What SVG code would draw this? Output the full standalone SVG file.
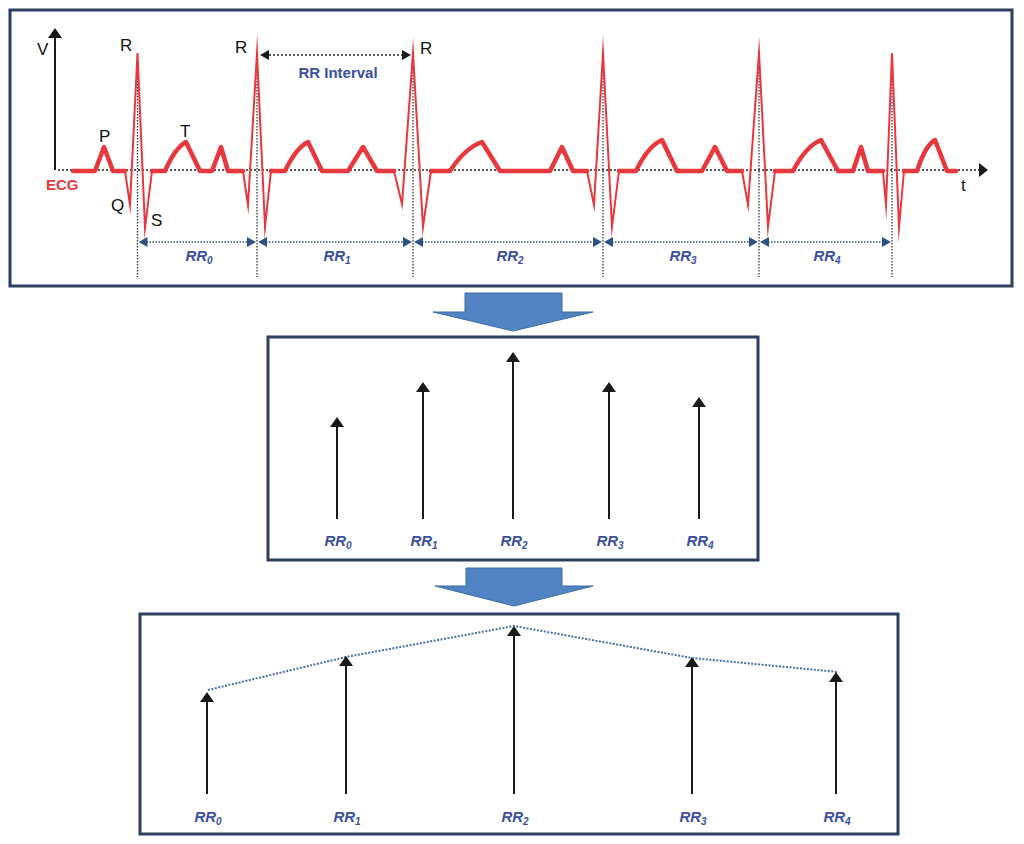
<svg xmlns="http://www.w3.org/2000/svg" width="1024" height="844" viewBox="0 0 1024 844">
<defs>
<style>
.box{fill:#fff;stroke:#2c3f60;stroke-width:3}
.blk{fill:#5284c3;stroke:#3e6aa6;stroke-width:1}
.lbl{font-family:"Liberation Sans",Arial,sans-serif;font-size:17px;fill:#111}
.rr{font-family:"Liberation Sans",Arial,sans-serif;font-size:15px;font-weight:bold;font-style:italic;fill:#3b4f9e;text-anchor:middle}
.sub{font-size:10px}
.dotk{stroke:#222;stroke-width:1.6;stroke-dasharray:2 2;fill:none}
.dotv{stroke:#333;stroke-width:1.3;stroke-dasharray:1.5 1.5;fill:none}
.dotb{stroke:#2e5184;stroke-width:1.4;stroke-dasharray:1.5 1.5;fill:none}
.ecgT{stroke:#e8383d;stroke-width:4.5;fill:none;stroke-linejoin:round;stroke-linecap:round}
.ecgQ{stroke:#e8383d;stroke-width:2;fill:none;stroke-linejoin:miter;stroke-miterlimit:20}
.arr{stroke:#1a1a1a;stroke-width:2;fill:none}
</style>
<marker id="ah" viewBox="0 0 10 14" refX="5" refY="7" markerWidth="10" markerHeight="14" markerUnits="userSpaceOnUse" orient="auto"><path d="M0,0 L10,7 L0,14 z" fill="#1a1a1a"/></marker>
<marker id="bh" viewBox="0 0 9 10" refX="4" refY="5" markerWidth="9" markerHeight="10" markerUnits="userSpaceOnUse" orient="auto-start-reverse"><path d="M0,0 L9,5 L0,10 z" fill="#2e5184"/></marker>
<marker id="kh" viewBox="0 0 9 10" refX="4" refY="5" markerWidth="9" markerHeight="10" markerUnits="userSpaceOnUse" orient="auto-start-reverse"><path d="M0,0 L9,5 L0,10 z" fill="#1a1a1a"/></marker>
</defs>
<rect width="1024" height="844" fill="#fff"/>

<g id="ecg-panel">
<rect class="box" x="10" y="10" width="1002" height="276"/>
<g id="grid">
<line class="dotk" x1="58" y1="170" x2="980" y2="170"/>
<polygon points="979,163 988,170 979,177" fill="#1a1a1a"/>
<line class="arr" x1="55" y1="170" x2="55" y2="38"/>
<polygon points="48,38 55,28 62,38" fill="#1a1a1a"/>
<g class="dotv">
<line x1="137.5" y1="60" x2="137.5" y2="277"/>
<line x1="257" y1="60" x2="257" y2="277"/>
<line x1="413" y1="60" x2="413" y2="277"/>
<line x1="603" y1="72" x2="603" y2="277"/>
<line x1="759" y1="60" x2="759" y2="277"/>
<line x1="892" y1="60" x2="892" y2="277"/>
</g>
</g>
<g id="ecg-wave">
<path class="ecgT" d="M73,171 L95,171 L104,147 L113,171 L125,171 M152,171 L165,171 Q175,148 186,142 L200,171 L212,171 L221,147 L228,171 L243,171 M271,171 L285,171 Q296,148 308,142 L322,171 L348,171 L363,147 L377,171 L394,171 M431,171 L450,171 Q465,148 482,142 L500,171 L550,171 L562,147 L573,171 L587,171 M619,171 L636,171 Q648,146 662,140 L677,171 L702,171 L715,147 L727,171 L742,171 M775,171 L793,171 Q806,146 821,140 L838,171 L853,171 L861,147 L868,171 L883,171 M904,171 L917,171 Q925,146 935,140 L947,171 L956,171"/>
<path class="ecgQ" d="M125,171 L130,205 L137.5,53 L145,228 L152,171 M243,171 L248,205 L257,53 L265,227 L271,171 M394,171 L402,204 L413,53 L423,227 L431,171 M587,171 L594,205 L603,53 L612,227 L619,171 M742,171 L748,205 L759,53 L768,227 L775,171 M883,171 L886,205 L892,53 L899,227 L904,171"/>
</g>
<g id="ecg-labels">
<text class="lbl" x="37" y="55" font-size="16">V</text>
<text class="lbl" x="120" y="51">R</text>
<text class="lbl" x="235" y="53">R</text>
<text class="lbl" x="420" y="54">R</text>
<text class="lbl" x="99" y="142">P</text>
<text class="lbl" x="180" y="137">T</text>
<text class="lbl" x="111" y="211">Q</text>
<text class="lbl" x="151" y="226">S</text>
<text class="lbl" x="961" y="191" font-size="19">t</text>
<text x="46" y="190" font-family="Liberation Sans,Arial,sans-serif" font-size="15" font-weight="bold" fill="#e8383d">ECG</text>
<text x="338" y="78" font-family="Liberation Sans,Arial,sans-serif" font-size="15" font-weight="bold" fill="#3b4f9e" text-anchor="middle">RR Interval</text>
</g>
<g id="ecg-dims">
<line class="dotk" x1="265" y1="55" x2="406" y2="55" stroke-width="1.4" marker-start="url(#kh)" marker-end="url(#kh)"/>
<line class="dotb" x1="143.5" y1="242" x2="251" y2="242" marker-start="url(#bh)" marker-end="url(#bh)"/>
<line class="dotb" x1="263" y1="242" x2="407" y2="242" marker-start="url(#bh)" marker-end="url(#bh)"/>
<line class="dotb" x1="419" y1="242" x2="597" y2="242" marker-start="url(#bh)" marker-end="url(#bh)"/>
<line class="dotb" x1="609" y1="242" x2="753" y2="242" marker-start="url(#bh)" marker-end="url(#bh)"/>
<line class="dotb" x1="765" y1="242" x2="886" y2="242" marker-start="url(#bh)" marker-end="url(#bh)"/>
<text class="rr" x="199" y="261">RR<tspan class="sub" dy="3">0</tspan></text>
<text class="rr" x="337" y="261">RR<tspan class="sub" dy="3">1</tspan></text>
<text class="rr" x="510" y="261">RR<tspan class="sub" dy="3">2</tspan></text>
<text class="rr" x="683" y="261">RR<tspan class="sub" dy="3">3</tspan></text>
<text class="rr" x="827" y="261">RR<tspan class="sub" dy="3">4</tspan></text>
</g>
</g>

<g id="step-arrow-1"><polygon class="blk" points="465,293 562,293 562,312 593,312 513,331 433,312 465,312"/></g>

<g id="rr-panel">
<rect class="box" x="268" y="337" width="490" height="223"/>
<g id="rr-bars">
<line class="arr" x1="337" y1="519" x2="337" y2="422" marker-end="url(#ah)"/>
<line class="arr" x1="423" y1="519" x2="423" y2="387" marker-end="url(#ah)"/>
<line class="arr" x1="513" y1="519" x2="513" y2="357" marker-end="url(#ah)"/>
<line class="arr" x1="609" y1="519" x2="609" y2="387" marker-end="url(#ah)"/>
<line class="arr" x1="699" y1="519" x2="699" y2="402" marker-end="url(#ah)"/>
</g>
<text class="rr" x="338" y="546">RR<tspan class="sub" dy="3">0</tspan></text>
<text class="rr" x="424" y="546">RR<tspan class="sub" dy="3">1</tspan></text>
<text class="rr" x="514" y="546">RR<tspan class="sub" dy="3">2</tspan></text>
<text class="rr" x="610" y="546">RR<tspan class="sub" dy="3">3</tspan></text>
<text class="rr" x="700" y="546">RR<tspan class="sub" dy="3">4</tspan></text>
</g>

<g id="step-arrow-2"><polygon class="blk" points="466,568 562,568 562,586 593,586 514,606 435,586 466,586"/></g>

<g id="interp-panel">
<rect class="box" x="140" y="614" width="758" height="220"/>
<g id="interp-connectors">
<polyline points="208,690 346,657 514,626 692,658 838,672" fill="none" stroke="#4a6fa5" stroke-width="2" stroke-dasharray="2 1.5"/>
<line class="arr" x1="207" y1="794" x2="207" y2="697" marker-end="url(#ah)"/>
<line class="arr" x1="346" y1="794" x2="346" y2="661" marker-end="url(#ah)"/>
<line class="arr" x1="514" y1="794" x2="514" y2="631" marker-end="url(#ah)"/>
<line class="arr" x1="692" y1="794" x2="692" y2="662" marker-end="url(#ah)"/>
<line class="arr" x1="836" y1="794" x2="836" y2="677" marker-end="url(#ah)"/>
</g>
<text class="rr" x="208" y="822">RR<tspan class="sub" dy="3">0</tspan></text>
<text class="rr" x="347" y="822">RR<tspan class="sub" dy="3">1</tspan></text>
<text class="rr" x="515" y="822">RR<tspan class="sub" dy="3">2</tspan></text>
<text class="rr" x="693" y="822">RR<tspan class="sub" dy="3">3</tspan></text>
<text class="rr" x="837" y="822">RR<tspan class="sub" dy="3">4</tspan></text>
</g>
</svg>
